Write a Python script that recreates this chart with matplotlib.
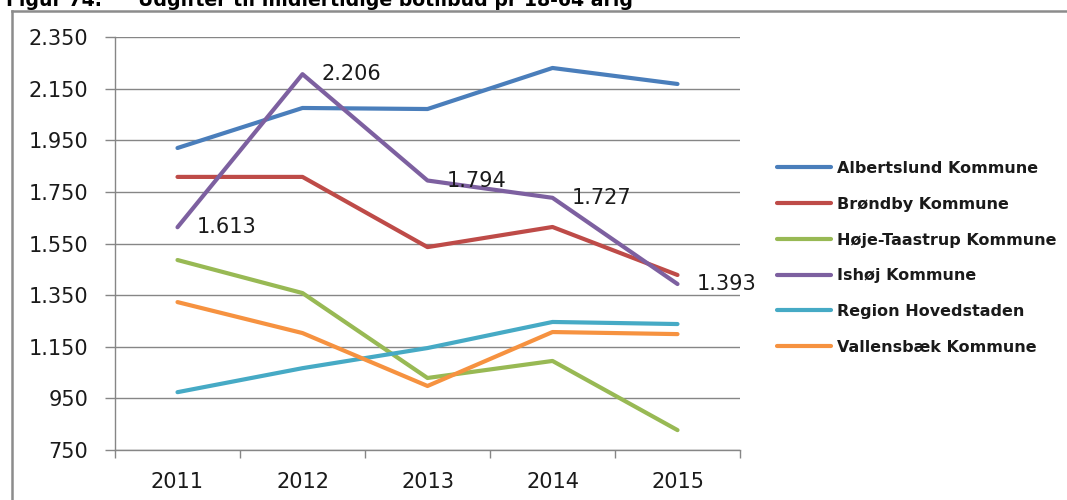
import numpy as np
import matplotlib
matplotlib.use("Agg")
import matplotlib.pyplot as plt
from matplotlib.ticker import FuncFormatter, FixedLocator
from matplotlib.lines import Line2D

plt.rcParams["font.family"] = ["DejaVu Sans"]

years = ["2011", "2012", "2013", "2014", "2015"]

albertslund = [1920, 2075, 2071, 2230, 2168]
broendby = [1808, 1808, 1536, 1614, 1428]
hoeje_taastrup = [1486, 1358, 1029, 1095, 827]
ishoej = [1613, 2206, 1794, 1727, 1393]
region_hovedstaden = [974, 1067, 1145, 1246, 1238]
vallensbaek = [1323, 1203, 998, 1207, 1199]

series_names = [
    "Albertslund Kommune",
    "Brøndby Kommune",
    "Høje-Taastrup Kommune",
    "Ishøj Kommune",
    "Region Hovedstaden",
    "Vallensbæk Kommune",
]
series_values = [albertslund, broendby, hoeje_taastrup, ishoej, region_hovedstaden, vallensbaek]
series_colors = ["#4A7EBB", "#BE4B48", "#98B954", "#7D60A0", "#46AAC5", "#F69240"]

y_ticks = [750, 950, 1150, 1350, 1550, 1750, 1950, 2150, 2350]


def danish_thousands(value, _):
    return f"{int(value):,}".replace(",", ".")


fig = plt.figure(figsize=(10.67, 5.0), dpi=100)
ax = fig.add_axes([115 / 1067, 1 - 450 / 500, 625 / 1067, 413 / 500])

x = np.arange(len(years))
for _name, _vals, _col in zip(series_names, series_values, series_colors):
    ax.plot(x, _vals, color=_col, linewidth=3, label=_name, solid_capstyle="round", zorder=5)

# data labels on Ishøj (Danish decimal style)
for _i, _v in enumerate(ishoej):
    ax.annotate(
        danish_thousands(_v, None),
        (_i, _v),
        xytext=(14, 0),
        textcoords="offset points",
        ha="left",
        va="center",
        fontsize=15,
        color="#1a1a1a",
        zorder=10,
    )

ax.set_xlim(-0.5, len(years) - 0.5)
ax.set_ylim(750, 2350)

ax.yaxis.set_major_locator(FixedLocator(y_ticks))
ax.yaxis.set_major_formatter(FuncFormatter(danish_thousands))
ax.tick_params(axis="y", length=7.2, width=1, color="#868686", pad=12, labelsize=15, labelcolor="#1a1a1a")

ax.xaxis.set_major_locator(FixedLocator(np.arange(-0.5, len(years), 1.0)))
ax.xaxis.set_major_formatter(FuncFormatter(lambda v, _: ""))
ax.set_xticks(x, years, minor=True)
ax.tick_params(axis="x", which="major", length=6, width=1, color="#868686")
ax.tick_params(axis="x", which="minor", length=0, pad=16, labelsize=15, labelcolor="#1a1a1a")

ax.grid(which="major", axis="y", color="#868686", linewidth=1, zorder=0)
ax.set_axisbelow(True)
for _s in ["top", "right"]:
    ax.spines[_s].set_visible(False)
for _s in ["left", "bottom"]:
    ax.spines[_s].set_color("#868686")
    ax.spines[_s].set_linewidth(1)

leg = fig.legend(
    loc="upper left",
    bbox_to_anchor=(777 / 1067, 1 - 161 / 500),
    frameon=False,
    borderpad=0,
    borderaxespad=0,
    handlelength=3.4,
    handletextpad=0.33,
    labelspacing=1.3,
    prop={"size": 11.5, "weight": "bold"},
)
for _t in leg.get_texts():
    _t.set_color("#1a1a1a")

# chart area frame
fig.add_artist(Line2D([11.5 / 1067, 11.5 / 1067], [0, 1 - 11 / 500], transform=fig.transFigure,
                      color="#8C8C8C", linewidth=1.8))
fig.add_artist(Line2D([11.5 / 1067, 1], [1 - 11 / 500, 1 - 11 / 500], transform=fig.transFigure,
                      color="#8C8C8C", linewidth=1.8))

# heading (cut off at the top, as in the source)
fig.text(102 / 1067, 1 - 6 / 500, "Figur 74.", fontsize=13.6, fontweight="bold", va="baseline", ha="right")
fig.text(138 / 1067, 1 - 6 / 500, "Udgifter til midlertidige botilbud pr 18-64 årig",
         fontsize=13.6, fontweight="bold", va="baseline", ha="left")

plt.savefig("out.png", dpi=100)
